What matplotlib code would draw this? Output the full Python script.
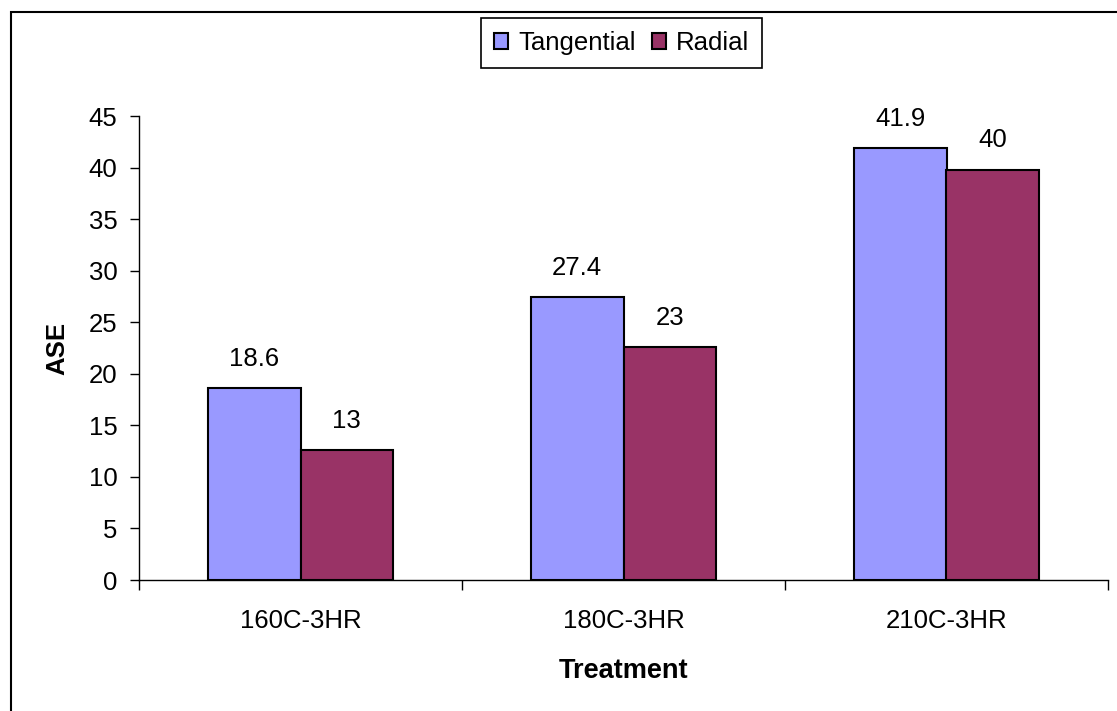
import matplotlib
matplotlib.use("Agg")
import matplotlib.pyplot as plt
import numpy as np
from matplotlib.patches import Rectangle

categories = ["160C-3HR", "180C-3HR", "210C-3HR"]
tangential = [18.6, 27.4, 41.9]
radial = [12.6, 22.6, 39.8]
tangential_labels = ["18.6", "27.4", "41.9"]
radial_labels = ["13", "23", "40"]
yticks = [0, 5, 10, 15, 20, 25, 30, 35, 40, 45]

plt.rcParams['font.family'] = ['Liberation Sans', 'DejaVu Sans']
FS = 18.5

W, H = 1117, 711
fig = plt.figure(figsize=(W / 100, H / 100), dpi=100)
ax = fig.add_axes([139 / W, (H - 580) / H, (1108 - 139) / W, (580 - 116) / H])

x = np.arange(len(categories))
bw = 0.286
c_t = "#9999ff"
c_r = "#993366"
b1 = ax.bar(x - bw / 2, tangential, bw, color=c_t, edgecolor="black", linewidth=1.5, label="Tangential", zorder=3)
b2 = ax.bar(x + bw / 2, radial, bw, color=c_r, edgecolor="black", linewidth=1.5, label="Radial", zorder=3)

for xi, v, lab in zip(x - bw / 2, tangential, tangential_labels):
    ax.annotate(lab, (xi, v), xytext=(0, 16), textcoords="offset points",
                ha="center", va="baseline", fontsize=FS)
for xi, v, lab in zip(x + bw / 2, radial, radial_labels):
    ax.annotate(lab, (xi, v), xytext=(0, 16), textcoords="offset points",
                ha="center", va="baseline", fontsize=FS)

ax.set_xlim(-0.5, len(categories) - 0.5)
ax.set_ylim(0, 45)
ax.set_yticks(yticks)
ax.set_yticklabels([str(t) for t in yticks], fontsize=FS)
ax.tick_params(axis="y", direction="out", length=6.5, width=1, pad=9)

ax.set_xticks(np.arange(len(categories) + 1) - 0.5)
ax.set_xticklabels([])
ax.set_xticks(x, minor=True)
ax.set_xticklabels(categories, minor=True, fontsize=FS)
ax.tick_params(axis="x", which="major", direction="out", length=7, width=1)
ax.tick_params(axis="x", which="minor", length=0, pad=21)

ax.spines["top"].set_visible(False)
ax.spines["right"].set_visible(False)
ax.spines["left"].set_linewidth(1)
ax.spines["bottom"].set_linewidth(1)

ax.set_ylabel("ASE", fontsize=FS, fontweight="bold")
ax.yaxis.label.set_verticalalignment("center")
ax.yaxis.set_label_coords((57 - 139) / 969, 0.5)
ax.set_xlabel("Treatment", fontsize=19.5, fontweight="bold")
ax.xaxis.label.set_verticalalignment("baseline")
ax.xaxis.set_label_coords(0.5, (580 - 678) / 464)

leg = fig.legend(handles=[b1, b2], labels=["Tangential", "Radial"], loc="center",
                 bbox_to_anchor=(621.5 / W, 1 - 43 / H), ncol=2,
                 fontsize=FS, frameon=True, fancybox=False, framealpha=1,
                 edgecolor="black", handlelength=0.55, handleheight=0.55,
                 handletextpad=0.4, columnspacing=0.62, borderpad=0.5,
                 borderaxespad=0)
leg.get_frame().set_linewidth(1.2)

fig.patches.append(Rectangle((11 / W, -0.1), 1.2, 1 - 12 / H + 0.1, transform=fig.transFigure,
                             fill=False, edgecolor="black", linewidth=1.5))

fig.savefig("out.png", dpi=100)
